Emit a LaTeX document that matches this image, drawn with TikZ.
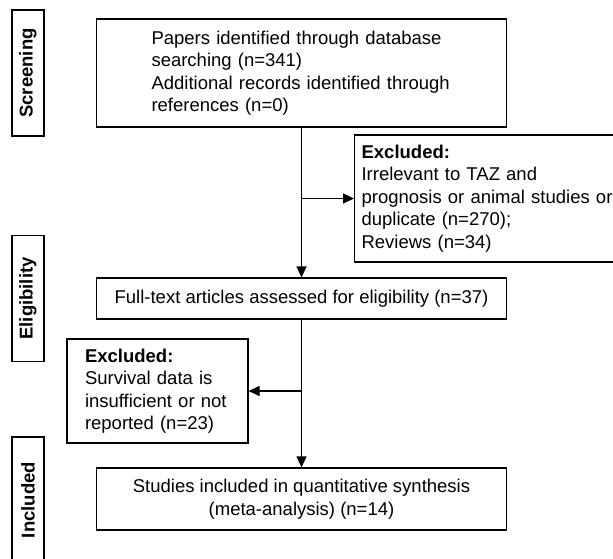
\documentclass[tikz,border=0pt]{standalone}
\usepackage{fontspec}
\setmainfont{Liberation Sans}
\usetikzlibrary{arrows.meta, calc, positioning}

\tikzset{
    box/.style={draw, line width=1.2pt, inner sep=0pt, font=\fontsize{18.5}{22.5}\selectfont},
    stage/.style={draw, line width=1.2pt, inner sep=0pt, rotate=90, minimum width=126pt, minimum height=32pt, font=\bfseries\fontsize{18.5}{22}\selectfont},
    flow/.style={line width=1.2pt, -{Triangle[length=11pt, width=10pt]}}
}

\begin{document}
\begin{tikzpicture}[x=1pt, y=-1pt]
                        \useasboundingbox (0, 0) rectangle (613, 558);
                        \clip (0, 0) rectangle (613, 558);

                        \node[stage] (screen) at (28, 73) {Screening};
                        \node[stage] (elig) at (28, 298.5) {Eligibility};
                        \node[stage] (incl) at (28, 500) {Included};

                        \node[box, minimum width=410pt, minimum height=108pt, text width=300pt, align=left] (ident) at (301.5, 73)
                            {Papers identified through database\\searching (n=341)\\Additional records identified through\\references (n=0)};
                        \node[box, minimum width=270pt, minimum height=127pt, text width=256pt, align=left, anchor=west] (excla) at (354, 198.5)
                            {\textbf{Excluded:}\\Irrelevant to TAZ and\\prognosis or animal studies or\\duplicate (n=270);\\Reviews (n=34)};
                        \node[box, minimum width=410pt, minimum height=41pt] (full) at (301.5, 298.5)
                            {Full-text articles assessed for eligibility (n=37)};
                        \node[box, minimum width=181pt, minimum height=104pt, text width=145pt, align=left] (exclb) at (157.5, 391)
                            {\textbf{Excluded:}\\Survival data is\\insufficient or not\\reported (n=23)};
                        \node[box, minimum width=410pt, minimum height=62pt, align=center] (study) at (301.5, 499)
                            {Studies included in quantitative synthesis\\(meta-analysis) (n=14)};

                        \coordinate (forka) at (ident.south |- excla.west);
                        \coordinate (forkb) at (full.south |- exclb.east);

                        \draw[flow] (ident) -- (full);
                        \draw[flow] (forka) -- (excla);
                        \draw[flow] (full) -- (study);
                        \draw[flow] (forkb) -- (exclb);
                    \end{tikzpicture}
\end{document}
